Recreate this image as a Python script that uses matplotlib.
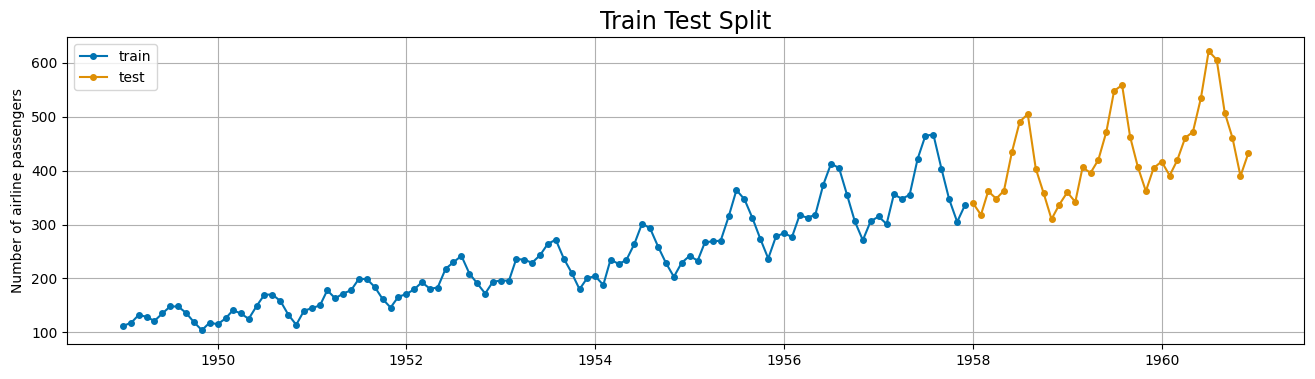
import pandas as pd
import matplotlib
matplotlib.use('Agg')
import matplotlib.pyplot as plt
import matplotlib.dates as mdates

# monthly airline passengers (thousands)
train_values = [112, 118, 132, 129, 121, 135, 148, 148, 136, 119, 104, 118,
                115, 126, 141, 135, 125, 149, 170, 170, 158, 133, 114, 140,
                145, 150, 178, 163, 172, 178, 199, 199, 184, 162, 146, 166,
                171, 180, 193, 181, 183, 218, 230, 242, 209, 191, 172, 194,
                196, 196, 236, 235, 229, 243, 264, 272, 237, 211, 180, 201,
                204, 188, 235, 227, 234, 264, 302, 293, 259, 229, 203, 229,
                242, 233, 267, 269, 270, 315, 364, 347, 312, 274, 237, 278,
                284, 277, 317, 313, 318, 374, 413, 405, 355, 306, 271, 306,
                315, 301, 356, 348, 355, 422, 465, 467, 404, 347, 305, 336]
test_values = [340, 318, 362, 348, 363, 435, 491, 505, 404, 359, 310, 337,
               360, 342, 406, 396, 420, 472, 548, 559, 463, 407, 362, 405,
               417, 391, 419, 461, 472, 535, 622, 606, 508, 461, 390, 432]

train_dates = pd.date_range('1949-01-01', periods=len(train_values), freq='MS')
test_dates = pd.date_range('1958-01-01', periods=len(test_values), freq='MS')

fig, ax = plt.subplots(figsize=(13.15, 3.79), dpi=100)
ax.plot(train_dates, train_values, '-o', color='#0173b2', markersize=4, label='train')
ax.plot(test_dates, test_values, '-o', color='#de8f05', markersize=4, label='test')
ax.xaxis.set_major_locator(mdates.YearLocator(2))
ax.xaxis.set_major_formatter(mdates.DateFormatter('%Y'))
ax.grid()
ax.set_title('Train Test Split', fontsize=17)
ax.set_ylabel('Number of airline passengers')
ax.legend(loc='upper left')
plt.subplots_adjust(left=0.051, right=0.992, top=0.902, bottom=0.092)
plt.savefig('out.png')
